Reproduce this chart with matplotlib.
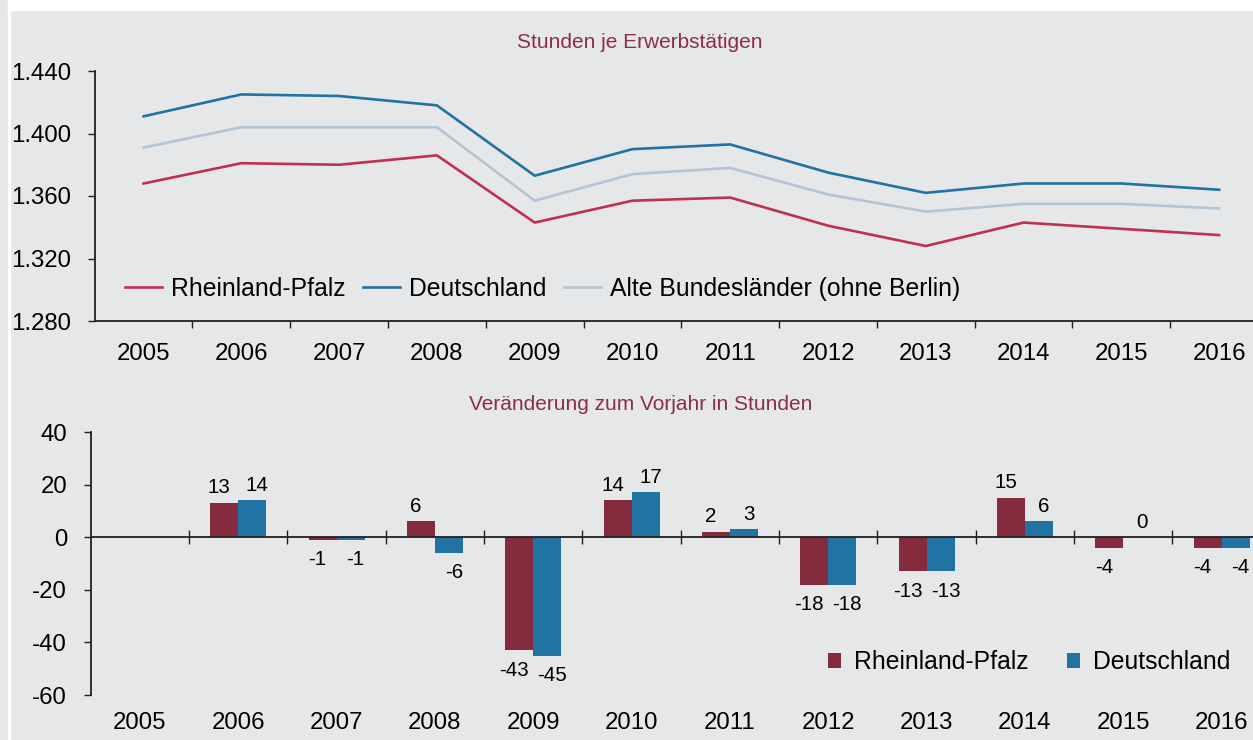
import numpy as np
import matplotlib.pyplot as plt
from matplotlib.patches import Rectangle

years = ["2005", "2006", "2007", "2008", "2009", "2010",
         "2011", "2012", "2013", "2014", "2015", "2016"]

# Stunden je Erwerbstaetigen
hours_rp = [1368, 1381, 1380, 1386, 1343, 1357, 1359, 1341, 1328, 1343, 1339, 1335]
hours_de = [1411, 1425, 1424, 1418, 1373, 1390, 1393, 1375, 1362, 1368, 1368, 1364]
hours_alt = [1391, 1404, 1404, 1404, 1357, 1374, 1378, 1361, 1350, 1355, 1355, 1352]

# Veraenderung zum Vorjahr (ab 2006)
change_years = years[1:]
change_rp = [13, -1, 6, -43, 14, 2, -18, -13, 15, -4, -4]
change_de = [14, -1, -6, -45, 17, 3, -18, -13, 6, 0, -4]

top_ticks = [1280, 1320, 1360, 1400, 1440]
bottom_ticks = [-60, -40, -20, 0, 20, 40]

BG = "#e6e7e9"
RED_LINE = "#bf3152"
BLUE = "#2173a1"
LIGHT = "#b5c4d3"
RED_BAR = "#842b3d"
TITLE = "#8c2f43"
AXC = "#231f20"

plt.rcParams["font.family"] = ["Liberation Sans", "DejaVu Sans"]
plt.rcParams["axes.unicode_minus"] = False

W, H = 1253, 740
fig = plt.figure(figsize=(W / 100, H / 100), dpi=100, facecolor=BG)

# white frame strips
fig.patches.append(Rectangle((8 / W, 1 - 9.5 / H), 1, 9.5 / H, transform=fig.transFigure,
                             color="white", zorder=0))
fig.patches.append(Rectangle((8 / W, 0), 1.5 / W, 1, transform=fig.transFigure,
                             color="white", zorder=0))

x = np.arange(len(years))
TICK_FS = 17.3
LEG_FS = 17.8

# ---- top: lines ----
ax1 = fig.add_axes([94.7 / W, 1 - 321 / H, 1173.3 / W, 250 / H])
ax1.set_facecolor("none")
ax1.plot(x, hours_rp, color=RED_LINE, lw=1.9, label="Rheinland-Pfalz")
ax1.plot(x, hours_de, color=BLUE, lw=1.9, label="Deutschland")
ax1.plot(x, hours_alt, color=LIGHT, lw=1.9, label="Alte Bundesländer (ohne Berlin)")
ax1.set_xlim(-0.5, len(years) - 0.5)
ax1.set_ylim(top_ticks[0], top_ticks[-1])
ax1.set_yticks(top_ticks)
ax1.set_yticklabels([f"{v:,}".replace(",", ".") for v in top_ticks])
ax1.set_xticks(x[:-1] + 0.5)
ax1.set_xticklabels([])
ax1.set_xticks(x, minor=True)
ax1.set_xticklabels(years, minor=True)
ax1.tick_params(axis="x", which="major", direction="out", length=5, width=1, color=AXC)
ax1.tick_params(axis="x", which="minor", length=0, pad=15.5, labelsize=TICK_FS)
ax1.tick_params(axis="y", direction="out", length=5, width=1, color=AXC, pad=12, labelsize=TICK_FS)
for s in ["top", "right"]:
    ax1.spines[s].set_visible(False)
for s in ["left", "bottom"]:
    ax1.spines[s].set_color(AXC)
    ax1.spines[s].set_linewidth(1.3)
ax1.legend(loc="center left", bbox_to_anchor=(0.0258, 0.128), ncol=3, frameon=False,
           fontsize=LEG_FS, handlelength=1.5, handletextpad=0.36, columnspacing=0.7,
           borderaxespad=0, borderpad=0)
fig.text(640 / W, 1 - 43 / H, "Stunden je Erwerbstätigen", color=TITLE, fontsize=15,
         ha="center", va="center")

# ---- bottom: bars ----
ax2 = fig.add_axes([90.7 / W, 1 - 695 / H, 1180 / W, 263 / H])
ax2.set_facecolor("none")
xb = np.arange(1, len(years))
bw = 0.285
b1 = ax2.bar(xb - bw / 2, change_rp, bw, color=RED_BAR, label="Rheinland-Pfalz")
b2 = ax2.bar(xb + bw / 2, change_de, bw, color=BLUE, label="Deutschland")
for bars, vals, dx in ((b1, change_rp, -3.5), (b2, change_de, 3.5)):
    for rect, v in zip(bars, vals):
        cx = rect.get_x() + rect.get_width() / 2
        if v >= 0:
            ax2.annotate(str(v), (cx, v), xytext=(dx, 4), textcoords="offset points",
                         ha="center", va="bottom", fontsize=14.8)
        else:
            ax2.annotate(str(v), (cx, v), xytext=(dx, -7.5), textcoords="offset points",
                         ha="center", va="top", fontsize=14.8)
ax2.set_xlim(-0.5, len(years) - 0.5)
ax2.set_ylim(bottom_ticks[0], bottom_ticks[-1])
ax2.set_yticks(bottom_ticks)
ax2.set_yticklabels([str(v) for v in bottom_ticks])
ax2.tick_params(axis="y", direction="out", length=5, width=1, color=AXC, pad=12, labelsize=TICK_FS)
ax2.spines["bottom"].set_position(("data", 0))
ax2.set_xticks(x[:-1] + 0.5)
ax2.set_xticklabels([])
ax2.tick_params(axis="x", direction="inout", length=10, width=1, color=AXC)
for s in ["top", "right"]:
    ax2.spines[s].set_visible(False)
for s in ["left", "bottom"]:
    ax2.spines[s].set_color(AXC)
    ax2.spines[s].set_linewidth(1.3)
sec = ax2.secondary_xaxis("bottom")
sec.spines["bottom"].set_visible(False)
sec.set_xticks(x)
sec.set_xticklabels(years)
sec.tick_params(length=0, pad=12.5, labelsize=TICK_FS)
ax2.legend(loc="center left", bbox_to_anchor=(0.6245, 0.125), ncol=2, frameon=False,
           fontsize=LEG_FS, handlelength=0.53, handleheight=0.53, handletextpad=0.53,
           columnspacing=1.54, borderaxespad=0, borderpad=0)
fig.text(641 / W, 1 - 405 / H, "Veränderung zum Vorjahr in Stunden", color=TITLE, fontsize=15,
         ha="center", va="center")

fig.savefig("out.png", dpi=100, facecolor=BG)
